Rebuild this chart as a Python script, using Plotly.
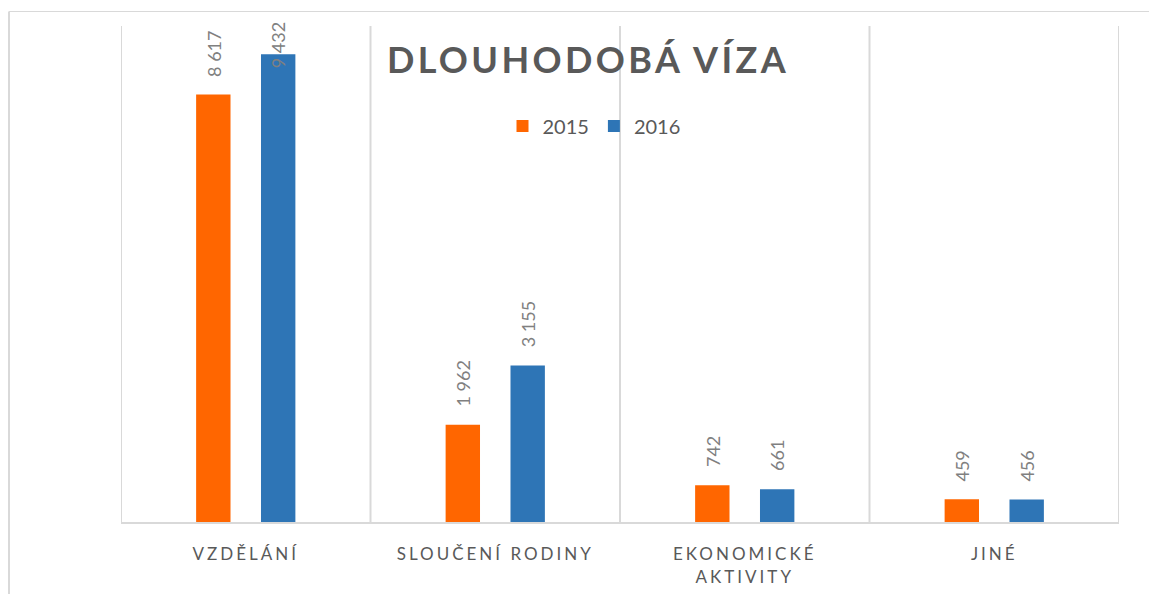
import plotly.graph_objects as go

categories = ["VZDĚLÁNÍ", "SLOUČENÍ RODINY", "EKONOMICKÉ<br>AKTIVITY", "JINÉ"]
series_names = ["2015", "2016"]
values_2015 = [8617, 1962, 742, 459]
values_2016 = [9432, 3155, 661, 456]
series_colors = ["#FF6600", "#2E75B6"]
title_text = "DLOUHODOBÁ VÍZA"

YMAX = 10000
BARGAP = 0.48
FONT = "Lato"
TXT = "#595959"
LBL = "#808080"
GRID = "#D9D9D9"


def spaced(s, px):
    return "<br>".join(
        f'<span style="letter-spacing:{px}px">{line}</span>' for line in s.split("<br>")
    )


tick_text = [spaced(c, 3) for c in categories]
xs = list(range(len(categories)))

fig = go.Figure()
for name, vals, col in zip(series_names, [values_2015, values_2016], series_colors):
    fig.add_trace(go.Bar(x=xs, y=vals, name=name, marker=dict(color=col, line=dict(width=0)),
                         hoverinfo="skip"))

# data labels
off = (1 - BARGAP) / 4
annotations = []
for si, vals in enumerate([values_2015, values_2016]):
    for i, v in enumerate(vals):
        xpos = i + (-off if si == 0 else off)
        txt = f"{v:,}".replace(",", " ")
        if v > 0.9 * YMAX:
            annotations.append(dict(x=xpos, y=YMAX, xref="x", yref="y", text=txt, textangle=-90,
                                    showarrow=False, yanchor="top", yshift=6,
                                    font=dict(family=FONT, size=18, color=LBL)))
        else:
            annotations.append(dict(x=xpos, y=v, xref="x", yref="y", text=txt, textangle=-90,
                                    showarrow=False, yanchor="bottom", yshift=16,
                                    font=dict(family=FONT, size=18, color=LBL)))

# page body has an 8px margin
W, H = 1149, 586
L, R, T, B = 113, 38, 18, 72
pw, ph = W - L - R, H - T - B
bx = (1 - L) / pw
by = (H - B - 3.5) / ph

shapes = [
    dict(type="line", xref="paper", yref="paper", x0=bx, x1=(W - L) / pw + 0.01, y0=by, y1=by,
         line=dict(color=GRID, width=1.2)),
    dict(type="line", xref="paper", yref="paper", x0=bx, x1=bx, y0=by, y1=-B / ph - 0.01,
         line=dict(color=GRID, width=2)),
]
# vertical gridlines at category boundaries
for i in range(len(xs) + 1):
    shapes.append(dict(type="line", xref="x", yref="paper", x0=i - 0.5, x1=i - 0.5, y0=0, y1=1,
                       line=dict(color=GRID, width=2), layer="below"))

fig.update_layout(
    width=W, height=H,
    margin=dict(l=L, r=R, t=T, b=B, autoexpand=False),
    paper_bgcolor="white", plot_bgcolor="white",
    barmode="group", bargap=BARGAP, bargroupgap=0.47,
    title=dict(text=spaced(title_text, 3.4), x=(588 - 8) / W, xanchor="center", y=1 - (60 - 8) / H,
               yanchor="middle", xref="container", yref="container",
               font=dict(family=FONT, size=36, color=TXT, weight="bold")),
    legend=dict(orientation="h", x=(594 - 121) / pw, xanchor="center", y=(522 - 126) / ph,
                yanchor="middle", font=dict(family=FONT, size=20, color=TXT),
                bgcolor="rgba(0,0,0,0)", itemwidth=30, traceorder="normal"),
    xaxis=dict(tickmode="array", tickvals=xs, ticktext=tick_text, range=[-0.5, len(xs) - 0.5],
               showgrid=False, showline=True, linecolor=GRID, linewidth=2,
               ticks="", ticklabelstandoff=16,
               tickfont=dict(family=FONT, size=17, color=TXT)),
    yaxis=dict(range=[0, YMAX], showgrid=False, showticklabels=False, zeroline=False,
               showline=False, ticks=""),
    annotations=annotations, shapes=shapes,
    showlegend=True,
)

fig.write_html("out.html")
